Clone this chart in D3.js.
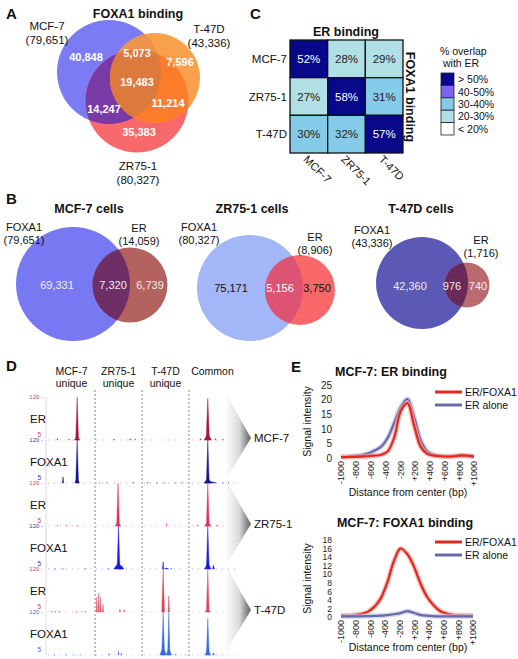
<!DOCTYPE html>
<html><head><meta charset="utf-8">
<script src="https://cdn.jsdelivr.net/npm/d3@7"></script>
<style>body{margin:0;background:#fff}svg{display:block;font-family:"Liberation Sans",Arial,sans-serif}</style>
</head><body>
<script>
// ---------------- DATA ----------------
// Panel A : FOXA1 binding overlap across cell lines
const vennASets = ["MCF-7", "T-47D", "ZR75-1"];
const vennATotals = [79651, 43336, 80327];
const vennARegions = ["MCF-7 only", "MCF-7 & T-47D", "T-47D only", "all three", "MCF-7 & ZR75-1", "T-47D & ZR75-1", "ZR75-1 only"];
const vennACounts = [40848, 5073, 7596, 19483, 14247, 11214, 35383];

// Panel B : FOXA1 vs ER per cell line
const vennBTitles = ["MCF-7 cells", "ZR75-1 cells", "T-47D cells"];
const vennBFoxa1Total = [79651, 80327, 43336];
const vennBErTotal = [14059, 8906, 1716];
const vennBFoxa1Only = [69331, 75171, 42360];
const vennBShared = [7320, 5156, 976];
const vennBErOnly = [6739, 3750, 740];

// Panel C : % overlap with ER
const heatRows = ["MCF-7", "ZR75-1", "T-47D"];   // FOXA1 binding
const heatCols = ["MCF-7", "ZR75-1", "T-47D"];   // ER binding
const heatValues = [[52, 28, 29], [27, 58, 31], [30, 32, 57]];
const legendLabels = ["> 50%", "40-50%", "30-40%", "20-30%", "< 20%"];
const legendThresholds = [20, 30, 40, 50];

// Panel D : genome browser tracks
const regionTop = ["MCF-7", "ZR75-1", "T-47D", "Common"];
const regionBottom = ["unique", "unique", "unique", ""];
const trackMarks = ["ER", "FOXA1", "ER", "FOXA1", "ER", "FOXA1"];
const trackCells = ["MCF-7", "MCF-7", "ZR75-1", "ZR75-1", "T-47D", "T-47D"];
const signalRange = [5, 120];
// peaks: [position (0-400), height (5-120), half width]
const trackPeaks = [
  [[62,120,3],[340,117,3.5],[340,22,8],[20,9,1],[45,8,1],[62,14,6],[140,8,1],[175,9,1],[186,8,1],[325,9,1],[356,9,1],[372,7,1]],
  [[62,120,3],[32,22,1.5],[62,16,5],[340,120,3],[340,18,8],[346,9,12],[110,6,1],[125,6,1],[182,7,1],[212,7,1],[232,6,1],[247,6,1],[272,6,1],[286,6,1],[372,6,1],[384,6,1]],
  [[149,120,3],[149,14,6],[340,120,3],[340,16,7],[20,7,1],[40,7,1],[62,7,1],[252,12,1],[318,8,1],[360,8,1]],
  [[150,120,3],[150,22,10],[157,14,4],[340,120,3],[340,22,7],[352,16,2],[15,6,1],[32,6,1],[80,6,1],[128,6,1],[245,25,1.5],[252,8,4],[262,7,1]],
  [[245,120,3],[257,48,1.5],[340,118,3],[340,12,6],[104,45,1.2],[108,56,1.2],[112,45,1.2],[117,26,1.2],[153,13,1],[162,12,1],[8,8,1],[16,8,1],[24,8,1],[60,7,1],[72,7,1],[80,7,1]],
  [[245,120,3],[245,26,7],[257,118,2.5],[257,22,6],[340,104,3],[340,22,6],[352,11,2],[130,9,1],[150,16,1],[156,10,1],[272,8,1],[292,6,1],[14,5,1],[38,6,1],[56,6,1],[70,6,1]]
];

// Panel E : average signal profiles (MCF-7)
const distLabels = ["-1000", "-800", "-600", "-400", "-200", "+200", "+400", "+600", "+800", "+1000"];
const distBp = [-1000,-900,-800,-700,-600,-500,-400,-300,-200,-100,0,100,200,300,400,500,600,700,800,900,1000];
const erBindErFoxa1 = [0.3,0.35,0.4,0.5,0.6,0.8,1.1,2.2,7,16.2,18.8,11,3.8,1.4,0.8,0.6,0.5,0.6,0.9,0.8,0.5];
const erBindErAlone = [0.4,0.5,0.7,1.0,1.5,2.5,3.8,6.8,12,17.5,20.2,14,6,2.2,1.0,0.7,0.6,0.6,0.7,0.6,0.5];
const foxBindErFoxa1 = [0.3,0.35,0.45,0.7,1.2,2.3,4.3,8,13,16,14.8,12,8,4.8,2.8,1.4,0.8,0.5,0.4,0.35,0.3];
const foxBindErAlone = [0.15,0.15,0.15,0.15,0.2,0.25,0.3,0.45,0.65,0.9,1.35,1.0,0.5,0.3,0.2,0.15,0.15,0.15,0.15,0.15,0.15];
const seriesNames = ["ER/FOXA1", "ER alone"];

// ---------------- DRAWING ----------------
const W = 518, H = 659;
const fmt = d3.format(",");
const svg = d3.select("body").append("svg").attr("width", W).attr("height", H);
const defs = svg.append("defs");

function txt(g, x, y, s, o = {}) {
  return g.append("text").attr("x", x).attr("y", y).text(s)
    .attr("font-size", o.size || 11).attr("font-weight", o.bold ? "bold" : null)
    .attr("text-anchor", o.anchor || "middle").attr("fill", o.fill || "#111");
}
function circle(g, c, fill) {
  return g.append("circle").attr("cx", c.cx).attr("cy", c.cy).attr("r", c.r).attr("fill", fill);
}
function clip(id, c) {
  defs.append("clipPath").attr("id", id).append("circle").attr("cx", c.cx).attr("cy", c.cy).attr("r", c.r);
}

// ----- Panel A -----
{
  const g = svg.append("g");
  txt(g, 6, 19, "A", { size: 15, bold: true, anchor: "start" });
  txt(g, 138, 18, "FOXA1 binding", { size: 12.5, bold: true });
  const C = { M: { cx: 109, cy: 72, r: 52 }, T: { cx: 155, cy: 78, r: 45 }, Z: { cx: 137, cy: 101, r: 51.5 } };
  clip("cAM", C.M); clip("cAZ", C.Z);
  circle(g, C.M, "#7b7bf4");
  circle(g, C.Z, "#f8696b");
  circle(g, C.T, "#f9a04b");
  const gm = g.append("g").attr("clip-path", "url(#cAM)");
  circle(gm, C.Z, "#7a3aa6");
  circle(gm, C.T, "#ec944e");
  const gz = g.append("g").attr("clip-path", "url(#cAZ)");
  circle(gz, C.T, "#fb7d2c");
  const gmz = g.append("g").attr("clip-path", "url(#cAM)").append("g").attr("clip-path", "url(#cAZ)");
  circle(gmz, C.T, "#dc7a3e");
  const setPos = [[47, 30], [209, 33], [138, 170]];
  vennASets.forEach((s, i) => {
    txt(g, setPos[i][0], setPos[i][1], s, { size: 11.5 });
    txt(g, setPos[i][0], setPos[i][1] + 13.5, "(" + fmt(vennATotals[i]) + ")", { size: 11.5 });
  });
  const regPos = [[86, 61], [137, 57], [180, 66], [137, 86], [104, 113], [168, 107], [139, 136]];
  vennACounts.forEach((v, i) => txt(g, regPos[i][0], regPos[i][1], fmt(v), { size: 11, bold: true, fill: "#fff" }));
}

// ----- Panel B -----
{
  const g = svg.append("g");
  txt(g, 6, 204, "B", { size: 15, bold: true, anchor: "start" });
  const L = [
    { t: 89, fox: { cx: 73, cy: 284, r: 57 }, er: { cx: 130, cy: 285, r: 37.5 }, fl: [24, 231], el: [139, 232], ny: 289,
      nx: [57, 113, 150], col: ["#7878f3", "#b4625f", "#6e2f67"], nc: ["#eee", "#eee", "#eee"] },
    { t: 252, fox: { cx: 250, cy: 288, r: 53 }, er: { cx: 300, cy: 290, r: 35 }, fl: [199, 231], el: [315, 241], ny: 292,
      nx: [231, 280, 317], col: ["#a3b6f8", "#f86868", "#dc5472"], nc: ["#111", "#fff", "#111"] },
    { t: 421, fox: { cx: 422, cy: 283, r: 46 }, er: { cx: 467, cy: 285, r: 22.5 }, fl: [372, 234], el: [481, 244], ny: 290,
      nx: [410, 452, 478], col: ["#5b59b5", "#ba6b70", "#6a2a57"], nc: ["#eee", "#eee", "#eee"] }
  ];
  vennBTitles.forEach((title, i) => {
    const l = L[i];
    txt(g, l.t, 213, title, { size: 12.5, bold: true });
    clip("cB" + i, l.fox);
    circle(g, l.fox, l.col[0]);
    circle(g, l.er, l.col[1]);
    circle(g.append("g").attr("clip-path", "url(#cB" + i + ")"), l.er, l.col[2]);
    txt(g, l.fl[0], l.fl[1], "FOXA1", { size: 11 });
    txt(g, l.fl[0], l.fl[1] + 13, "(" + fmt(vennBFoxa1Total[i]) + ")", { size: 11 });
    txt(g, l.el[0], l.el[1], "ER", { size: 11 });
    txt(g, l.el[0], l.el[1] + 13, "(" + fmt(vennBErTotal[i]) + ")", { size: 11 });
    [vennBFoxa1Only[i], vennBShared[i], vennBErOnly[i]].forEach((v, j) =>
      txt(g, l.nx[j], l.ny, fmt(v), { size: 11, fill: l.nc[j] }));
  });
}

// ----- Panel C -----
{
  const g = svg.append("g");
  txt(g, 250, 19, "C", { size: 15, bold: true, anchor: "start" });
  const x = d3.scaleBand().domain(heatCols).range([290, 403]);
  const y = d3.scaleBand().domain(heatRows).range([40, 153]);
  const color = d3.scaleThreshold().domain(legendThresholds)
    .range(["#ffffff", "#b0dfe5", "#84cbe9", "#7b68ee", "#08088a"]);
  txt(g, 346, 36, "ER binding", { size: 12.5, bold: true });
  heatRows.forEach((r, i) => heatCols.forEach((c, j) => {
    const v = heatValues[i][j];
    g.append("rect").attr("x", x(c)).attr("y", y(r)).attr("width", x.bandwidth()).attr("height", y.bandwidth())
      .attr("fill", color(v)).attr("stroke", "#111").attr("stroke-width", 1.3);
    txt(g, x(c) + x.bandwidth() / 2, y(r) + y.bandwidth() / 2 + 4, v + "%", { size: 11.5, fill: v > 50 ? "#fff" : "#222" });
  }));
  heatRows.forEach(r => txt(g, 287, y(r) + y.bandwidth() / 2 + 4, r, { size: 11.5, anchor: "end" }));
  heatCols.forEach(c => {
    const cx = x(c) + x.bandwidth() / 2 - 6;
    g.append("text").attr("transform", `translate(${cx},160) rotate(45)`).text(c)
      .attr("font-size", 11).attr("fill", "#111");
  });
  g.append("text").attr("transform", "translate(406,97) rotate(90)").text("FOXA1 binding")
    .attr("font-size", 12.5).attr("font-weight", "bold").attr("text-anchor", "middle").attr("fill", "#111");
  txt(g, 440, 55, "% overlap", { size: 10.5, anchor: "start" });
  txt(g, 443, 67, "with ER", { size: 10.5, anchor: "start" });
  const legColors = ["#08088a", "#7b68ee", "#84cbe9", "#b0dfe5", "#ffffff"];
  const ly = d3.scaleBand().domain(legendLabels).range([73, 135]);
  legendLabels.forEach((l, i) => {
    g.append("rect").attr("x", 441).attr("y", ly(l)).attr("width", 13).attr("height", ly.bandwidth())
      .attr("fill", legColors[i]).attr("stroke", "#222").attr("stroke-width", 0.8);
    txt(g, 458, ly(l) + ly.bandwidth() / 2 + 4, l, { size: 10.5, anchor: "start" });
  });
}

// ----- Panel D -----
{
  const g = svg.append("g");
  txt(g, 6, 371, "D", { size: 15, bold: true, anchor: "start" });
  const x = d3.scaleLinear().domain([0, 400]).range([48, 236]);
  const trackH = 43, top0 = 397;
  const trackTop = i => top0 + i * trackH;
  regionTop.forEach((r, i) => {
    const cx = x(i * 100 + 50);
    txt(g, cx, 375, r, { size: 10.5 });
    if (regionBottom[i]) txt(g, cx, 387, regionBottom[i], { size: 10.5 });
  });
  [100, 200, 300].forEach(b => g.append("line").attr("x1", x(b)).attr("x2", x(b)).attr("y1", 390).attr("y2", 656)
    .attr("stroke", "#666").attr("stroke-width", 0.8).attr("stroke-dasharray", "2,2"));
  const trackColors = ["#a8143c", "#16168e", "#e0305c", "#1c1ce0", "#d8485a", "#3a6ae6"];
  const tickColors = ["#c04860", "#3a3aa8", "#c04860", "#3a3aa8", "#c04860", "#4a6ad0"];
  const line = d3.line();
  trackMarks.forEach((m, i) => {
    const y = d3.scaleLinear().domain(signalRange).range([trackTop(i) + trackH, trackTop(i)]);
    const tg = g.append("g");
    tg.append("line").attr("x1", 46).attr("x2", 46).attr("y1", y(120)).attr("y2", y(5))
      .attr("stroke", tickColors[i]).attr("stroke-opacity", 0.3).attr("stroke-width", 0.8);
    tg.append("line").attr("x1", x(0)).attr("x2", x(400)).attr("y1", y(5)).attr("y2", y(5))
      .attr("stroke", trackColors[i]).attr("stroke-opacity", 0.45).attr("stroke-width", 0.8).attr("stroke-dasharray", "1,5");
    txt(tg, 43, y(120) + 2, "120 -", { size: 6, anchor: "end", fill: tickColors[i] });
    txt(tg, 41, y(5) - 3, "5", { size: 6.5, anchor: "end", fill: tickColors[i] });
    txt(tg, 30, (y(5) + y(120)) / 2 + 4, m, { size: 11.5, anchor: "start" });
    trackPeaks[i].forEach(p => {
      const pts = [[x(p[0] - p[2]), y(5)], [x(p[0]), y(p[1])], [x(p[0] + p[2]), y(5)]];
      tg.append("path").attr("d", line(pts) + "Z").attr("fill", trackColors[i]).attr("stroke", trackColors[i])
        .attr("stroke-width", 0.4);
    });
  });
  const grad = defs.append("linearGradient").attr("id", "arrowGrad").attr("x1", 0).attr("x2", 1).attr("y1", 0).attr("y2", 0);
  grad.append("stop").attr("offset", "0%").attr("stop-color", "#fff");
  grad.append("stop").attr("offset", "55%").attr("stop-color", "#dadada");
  grad.append("stop").attr("offset", "100%").attr("stop-color", "#5e5e5e");
  ["MCF-7", "ZR75-1", "T-47D"].forEach((c, k) => {
    const t = trackTop(2 * k) - 5, mid = trackTop(2 * k + 1) - 2, b = trackTop(2 * k + 2) - 2;
    g.append("path").attr("d", `M225,${t} L251,${mid} L225,${b} Z`).attr("fill", "url(#arrowGrad)");
    txt(g, 254, mid + 4, c, { size: 11.5, anchor: "start" });
  });
}

// ----- Panel E -----
function profile(cfg) {
  const g = svg.append("g");
  const x = d3.scaleLinear().domain([-1000, 1000]).range(cfg.xr);
  const xp = d3.scalePoint().domain(distLabels).range(cfg.xr);
  const y = d3.scaleLinear().domain([0, cfg.ymax]).range([cfg.y0, cfg.y1]);
  txt(g, cfg.tx, cfg.ty, cfg.title, { size: 12.5, bold: true });
  const ya = g.append("g").attr("transform", `translate(${cfg.xr[0] - 9},0)`)
    .call(d3.axisLeft(y).tickValues(d3.range(0, cfg.ymax + 1, cfg.step)).tickSize(0).tickPadding(0));
  ya.select(".domain").remove();
  ya.selectAll("text").attr("font-size", cfg.yfs).attr("fill", "#222").attr("font-family", "Liberation Sans, Arial, sans-serif");
  const xa = g.append("g").attr("transform", `translate(0,${cfg.y0})`)
    .call(d3.axisBottom(xp).tickSize(0).tickPadding(0));
  xa.select(".domain").remove();
  xa.selectAll("text").attr("font-size", 9).attr("fill", "#222").attr("font-family", "Liberation Sans, Arial, sans-serif")
    .attr("transform", "rotate(-90)").attr("text-anchor", "end").attr("dy", "0.32em").attr("x", -3).attr("y", 0);
  g.append("text").attr("transform", `translate(311,${(cfg.y0 + cfg.y1) / 2}) rotate(-90)`).text("Signal intensity")
    .attr("font-size", 10.5).attr("text-anchor", "middle").attr("fill", "#111");
  txt(g, 408, cfg.xl, "Distance from center (bp)", { size: 10.5 });
  const ln = d3.line().x((d, i) => x(distBp[i])).y(d => y(d)).curve(d3.curveCatmullRom);
  const styles = [{ c: "#e4271d", band: "#f3a7a3" }, { c: "#676aa8", band: "#c2c3e3" }];
  cfg.order.forEach(k => {
    g.append("path").attr("d", ln(cfg.series[k])).attr("fill", "none").attr("stroke", styles[k].band)
      .attr("stroke-width", 5).attr("stroke-opacity", 0.7);
    g.append("path").attr("d", ln(cfg.series[k])).attr("fill", "none").attr("stroke", styles[k].c)
      .attr("stroke-width", 2.2);
  });
  seriesNames.forEach((s, k) => {
    const ly = cfg.ly + k * 13;
    g.append("line").attr("x1", 435).attr("x2", 462).attr("y1", ly).attr("y2", ly).attr("stroke", styles[k].c).attr("stroke-width", 3);
    txt(g, 465, ly + 4, s, { size: 10.5, anchor: "start" });
  });
}
txt(svg, 291, 372, "E", { size: 15, bold: true, anchor: "start" });
profile({ title: "MCF-7: ER binding", tx: 391, ty: 376, xr: [341, 474], y0: 458, y1: 385, ymax: 25, step: 5, yfs: 10,
  series: [erBindErFoxa1, erBindErAlone], order: [1, 0], ly: 392, xl: 496 });
profile({ title: "MCF-7: FOXA1 binding", tx: 405, ty: 527, xr: [341, 473], y0: 617, y1: 540, ymax: 18, step: 2, yfs: 8.5,
  series: [foxBindErFoxa1, foxBindErAlone], order: [0, 1], ly: 542, xl: 651 });
</script>
</body></html>
